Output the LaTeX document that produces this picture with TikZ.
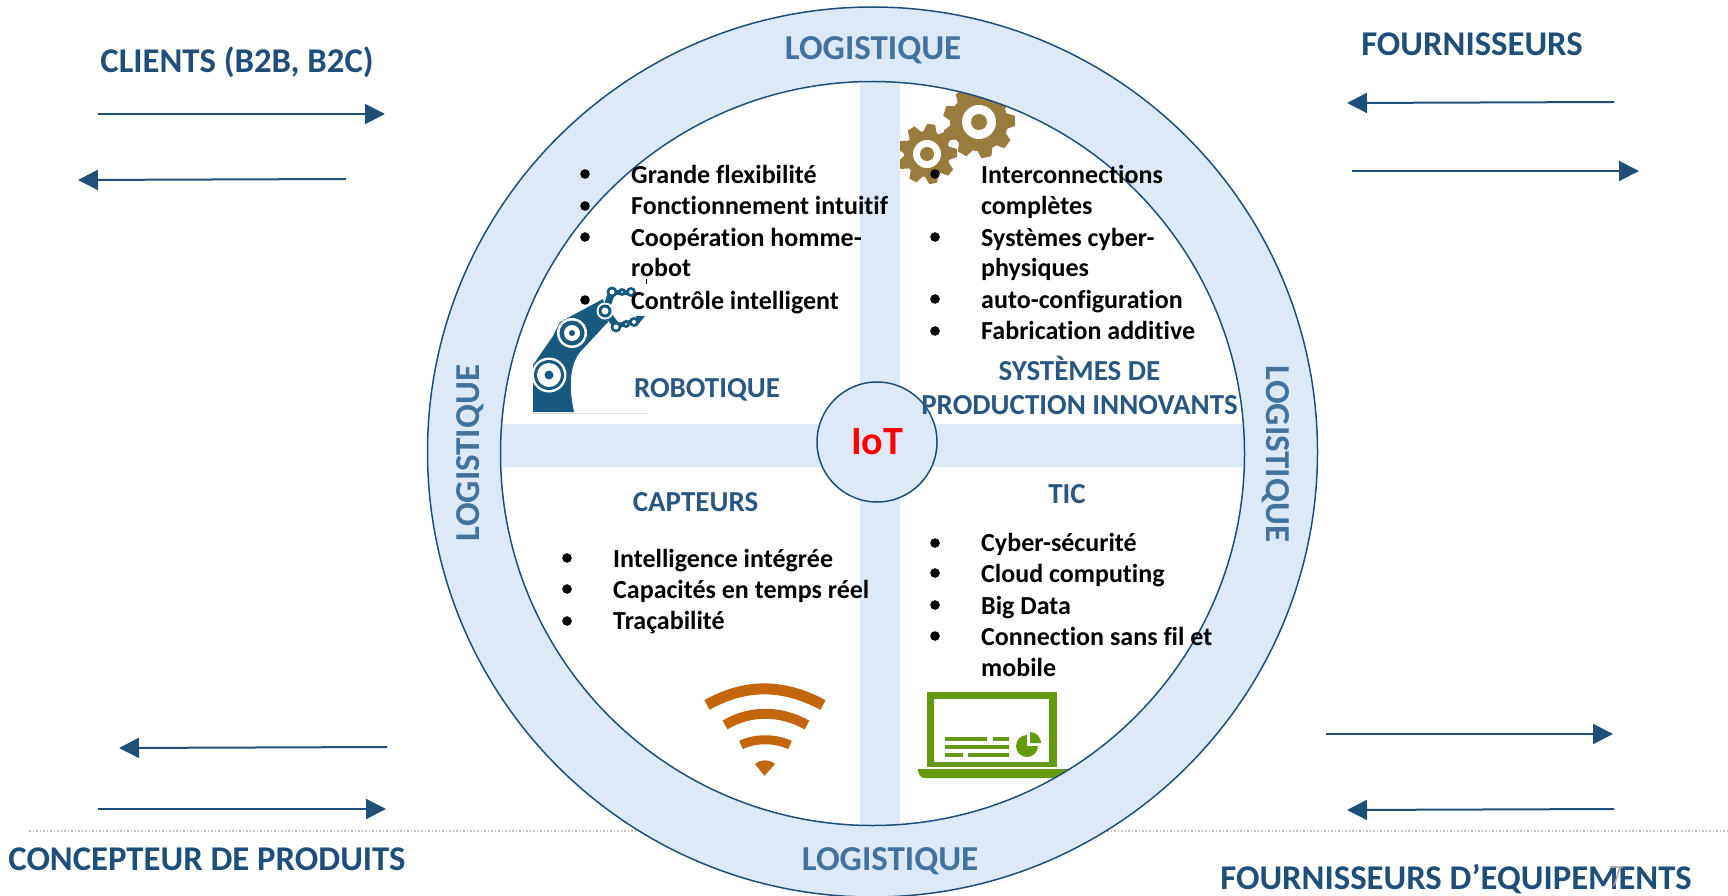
\documentclass[tikz,border=0pt]{standalone}
\usepackage{fontspec}
\setmainfont{Carlito}[Ligatures=NoCommon]
\usetikzlibrary{arrows.meta}
\definecolor{bleuroi}{HTML}{1F4E79}
\definecolor{bleuclair}{HTML}{DDE9F6}
\definecolor{bleulog}{HTML}{44729E}
\definecolor{bleutitre}{HTML}{2A5782}
\definecolor{sarcelle}{HTML}{17597F}
\definecolor{bronze}{HTML}{987C3E}
\definecolor{orangewifi}{HTML}{C4660E}
\definecolor{vertpc}{HTML}{669A0E}
\tikzset{
  acteur/.style={font=\fontsize{34.7}{34.7}\selectfont\bfseries,text=bleuroi},
  logistique/.style={font=\fontsize{35}{35}\selectfont\bfseries,text=bleulog},
  domaine/.style={font=\fontsize{29}{29}\selectfont\bfseries,text=bleutitre},
  ligne/.style={anchor=base west,inner sep=0pt,yshift=-1pt,font=\fontsize{26}{26}\selectfont\bfseries},
  flux/.style={draw=bleuroi,line width=2pt,-{Triangle[length=20pt,width=20pt]}},
  contour/.style={draw=bleuroi,line width=1.5pt}
}
\begin{document}
\begin{tikzpicture}[x=1pt,y=-1pt]
  \useasboundingbox (0,0) rectangle (1728,896);
  % ligne pointillée derrière le disque
  \draw[gray!50,line width=1.5pt,dotted] (29,831) -- (1728,831);

  % bandes en croix
  \fill[bleuclair] (860,80) rectangle (900,830);
  \fill[bleuclair] (498,424) rectangle (1248,467);

  % engrenages
  \begin{scope}
    \clip (900,60) rectangle (1060,200);
    \foreach \cx/\cy/\rpied/\rtete/\rtrou/\rmoyeu/\dent in {979/122/29/36/17/8/7, 927/154/23/30/14/7/6}{
      \fill[bronze] (\cx,\cy) circle (\rpied);
      \foreach \a in {0,40,...,320}
        \fill[bronze,shift={(\cx,\cy)},rotate=\a+12] (-\dent-1,\rpied-2) -- (-\dent+2,\rtete) -- (\dent-2,\rtete) -- (\dent+1,\rpied-2) -- cycle;
      \fill[white] (\cx,\cy) circle (\rtrou);
      \fill[bronze] (\cx,\cy) circle (\rmoyeu);
    }
  \end{scope}

  % bras robot
  \draw[gray!30,line width=1pt] (533,413) -- (648,413);
  \fill[sarcelle] (533,412) -- (574,412) .. controls (568,385) and (570,362) .. (582,350) -- (608,322) -- (603,299) -- (560,322) -- (553,336) -- (533,365) -- cycle;
  \draw[sarcelle,line width=7pt] (605,311) -- (612,292);
  \draw[sarcelle,line width=7pt] (605,311) -- (616,325);
  \draw[sarcelle,line width=5pt] (612,292) -- (631,292);
  \draw[sarcelle,line width=5pt] (616,326) -- (636,321);
  \fill[sarcelle] (636,316) -- (645,316) -- (637,326) -- cycle;
  \foreach \cx/\cy/\rb/\rc/\rd/\re in {549/375/17.5/15/12/4.5, 572/333/15/12.5/8/3}{
    \fill[white] (\cx,\cy) circle (\rb);
    \fill[sarcelle] (\cx,\cy) circle (\rc);
    \fill[white] (\cx,\cy) circle (\rd);
    \fill[sarcelle] (\cx,\cy) circle (\re);
  }
  \fill[white] (605,311) circle (8.5);
  \fill[sarcelle] (605,311) circle (6.5);
  \fill[white] (605,311) circle (3.5);
  \foreach \cx/\cy/\r in {612/292/5.5,622/292/4,631/292/5,616/327/5.5,626/324/4,634/322/5}{
    \fill[sarcelle] (\cx,\cy) circle (\r);
    \fill[white] (\cx,\cy) circle (\r-3);
  }

  % wifi
  \draw[orangewifi,line width=11pt] (707,705) .. controls (745,683.5) and (783,683.5) .. (823,705);
  \draw[orangewifi,line width=10pt] (725,725) .. controls (750,710) and (780,710) .. (807,725);
  \draw[orangewifi,line width=9pt] (741,745) .. controls (755,738) and (775,738) .. (790,745);
  \fill[orangewifi] (755,764) .. controls (761,759) and (769,759) .. (775,764) -- (764.5,776) -- cycle;

  % ordinateur
  \fill[vertpc] (927,692) rectangle (1057,767);
  \fill[white] (934,699) rectangle (1049,762);
  \fill[vertpc] (918,769) -- (1075,769) -- (1075,778) -- (925,778) .. controls (920,778) and (918,774) .. (918,769) -- cycle;
  \draw[vertpc,line width=3.5pt] (945,739) -- (987,739) (993,739) -- (1009,739) (945,747) -- (1009,747) (945,755) -- (963,755) (968,755) -- (1009,755);
  \fill[vertpc] (1027,746) -- ++(11,0) arc (0:270:11) -- cycle;
  \fill[vertpc] (1030,743) -- ++(0,-11) arc (-90:0:11) -- cycle;

  % anneau logistique
  \fill[bleuclair,even odd rule] (872.5,452) circle (445) (872.5,453.5) circle (372);
  \draw[contour] (872.5,452) circle (445);
  \draw[contour] (872.5,453.5) circle (372);

  % cercle central
  \node[circle,contour,fill=bleuclair,minimum size=120pt,inner sep=0pt,text=red,font=\fontsize{40}{40}\selectfont\bfseries] (iot) at (877,442) {IoT};

  % textes de l'anneau
  \node[logistique] (logHaut) at (873,50) {LOGISTIQUE};
  \node[logistique] (logBas) at (890,861) {LOGISTIQUE};
  \node[logistique,rotate=90] (logGauche) at (470,453) {LOGISTIQUE};
  \node[logistique,rotate=-90] (logDroite) at (1276,454) {LOGISTIQUE};

  % acteurs
  \node[acteur] (clients) at (237,62) {CLIENTS (B2B, B2C)};
  \node[acteur] (fournisseurs) at (1472,44) {FOURNISSEURS};
  \node[acteur] (concepteur) at (207,859) {CONCEPTEUR DE PRODUITS};
  \node[acteur] (equipements) at (1456,879) {FOURNISSEURS D’EQUIPEMENTS};
  \draw[gray!70,line width=1.5pt] (1610,867) -- (1623,867) (1620,867) -- (1614,886);

  % flèches
  \coordinate (cliA) at (98,114);   \coordinate (cliB) at (385,114);
  \coordinate (cliC) at (346,179);  \coordinate (cliD) at (78,180);
  \coordinate (fouA) at (1614,102); \coordinate (fouB) at (1347,103);
  \coordinate (fouC) at (1352,171); \coordinate (fouD) at (1639,171);
  \coordinate (conA) at (387,747);  \coordinate (conB) at (119,748);
  \coordinate (conC) at (98,809);   \coordinate (conD) at (386,809);
  \coordinate (equA) at (1326,734); \coordinate (equB) at (1613,734);
  \coordinate (equC) at (1614,809); \coordinate (equD) at (1347,810);
  \foreach \de/\vers in {cliA/cliB,cliC/cliD,fouA/fouB,fouC/fouD,conA/conB,conC/conD,equA/equB,equC/equD}
    \draw[flux] (\de) -- (\vers);

  % domaines
  \node[domaine] (robotique) at (707,390) {ROBOTIQUE};
  \node[domaine] (systemes) at (1079.5,368) {SYSTÈMES DE};
  \node[domaine] (production) at (1079.5,405) {PRODUCTION INNOVANTS};
  \node[domaine] (capteurs) at (695.5,502) {CAPTEURS};
  \node[domaine] (tic) at (1067,494) {TIC};

  % listes
  \foreach \y/\txt [count=\i] in {182/Grande flexibilité,213/Fonctionnement intuitif,245/Coopération homme-,275/robot,308/Contrôle intelligent}
    \node[ligne] (rob\i) at (631,\y) {\txt};
  \foreach \y in {174,206,237,300}
    \fill (585,\y) circle (4.8);
  \draw[line width=1pt] (646,279) -- (646,284);

  \foreach \y/\txt [count=\i] in {182/Interconnections,213/complètes,245/Systèmes cyber-,275/physiques,307/auto-configuration,338/Fabrication additive}
    \node[ligne] (sys\i) at (981,\y) {\txt};
  \foreach \y in {174,237,299,331}
    \fill (935,\y) circle (4.8);

  \foreach \y/\txt [count=\i] in {566/Intelligence intégrée,597/Capacités en temps réel,628/Traçabilité}
    \node[ligne] (cap\i) at (613,\y) {\txt};
  \foreach \y in {558,589,621}
    \fill (567,\y) circle (4.8);

  \foreach \y/\txt [count=\i] in {550/Cyber-sécurité,581/Cloud computing,613/Big Data,644/Connection sans fil et,675/mobile}
    \node[ligne] (tic\i) at (981,\y) {\txt};
  \foreach \y in {543,573,605,636}
    \fill (935,\y) circle (4.8);
\end{tikzpicture}
\end{document}
